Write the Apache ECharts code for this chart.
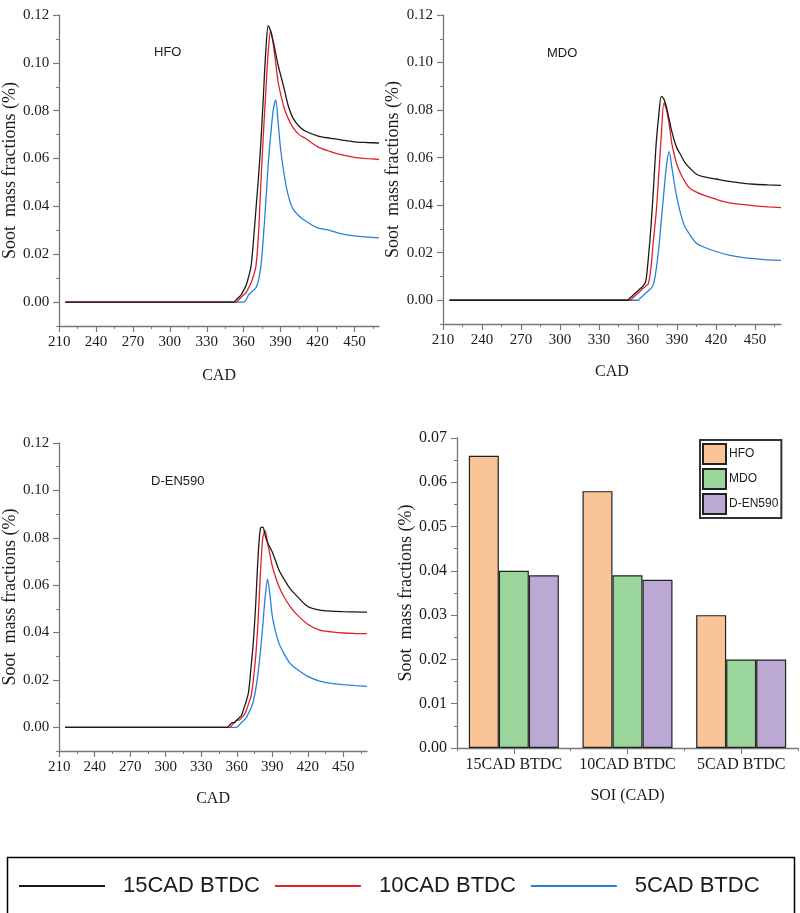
<!DOCTYPE html>
<html>
<head>
<meta charset="utf-8">
<script src="https://cdn.jsdelivr.net/npm/echarts@6/dist/echarts.min.js"></script>
<style>html,body{margin:0;padding:0;background:#fff}#c{width:800px;height:913px}</style>
</head>
<body>
<div id="c"></div>
<script>
// ---------- data ----------
const cad = [215, 350, 352, 354, 356, 358, 360, 362, 364, 366, 368, 370, 372, 374, 376, 378, 380, 382, 384, 386, 388, 390, 393, 396, 400, 405, 410, 420, 430, 440, 450, 460, 470];

const hfo15 = [0,0,0,0.001,0.002,0.003,0.005,0.007,0.0105,0.015,0.026,0.039,0.052,0.067,0.086,0.105,0.1155,0.113,0.109,0.104,0.099,0.095,0.089,0.0825,0.077,0.0735,0.0715,0.0695,0.0685,0.0677,0.067,0.0667,0.0665];
const hfo10 = [0,0,0,0,0.001,0.002,0.003,0.004,0.006,0.008,0.011,0.015,0.028,0.050,0.070,0.088,0.105,0.1135,0.108,0.100,0.092,0.087,0.081,0.077,0.073,0.070,0.0685,0.065,0.063,0.0615,0.0605,0.060,0.0596];
const hfo5  = [0,0,0,0,0,0,0,0.001,0.003,0.004,0.005,0.006,0.009,0.015,0.027,0.042,0.058,0.070,0.080,0.0845,0.075,0.064,0.053,0.045,0.039,0.036,0.034,0.031,0.030,0.0285,0.0277,0.0272,0.0268];

const mdo15 = [0,0,0,0.001,0.002,0.003,0.004,0.005,0.006,0.008,0.018,0.031,0.048,0.066,0.078,0.0858,0.0845,0.081,0.076,0.071,0.067,0.064,0.061,0.058,0.0555,0.053,0.052,0.051,0.050,0.0493,0.0488,0.0485,0.0483];
const mdo10 = [0,0,0,0,0.001,0.002,0.003,0.004,0.005,0.006,0.007,0.014,0.026,0.037,0.053,0.070,0.083,0.080,0.074,0.066,0.061,0.057,0.053,0.050,0.047,0.0455,0.0443,0.0425,0.041,0.0403,0.0397,0.0393,0.039];
const mdo5  = [0,0,0,0,0,0,0,0.001,0.002,0.003,0.004,0.005,0.007,0.013,0.022,0.034,0.046,0.057,0.0625,0.056,0.049,0.043,0.036,0.031,0.0275,0.024,0.0225,0.0205,0.019,0.018,0.0175,0.017,0.0168];

const den15 = [0,0,0,0.001,0.002,0.002,0.003,0.004,0.005,0.008,0.011,0.015,0.025,0.036,0.052,0.072,0.084,0.0845,0.081,0.078,0.076,0.074,0.070,0.066,0.0625,0.0585,0.0558,0.051,0.0495,0.049,0.0488,0.0487,0.0486];
const den10 = [0,0,0,0,0.001,0.002,0.003,0.003,0.004,0.005,0.007,0.010,0.013,0.020,0.030,0.045,0.065,0.080,0.083,0.078,0.073,0.068,0.063,0.059,0.055,0.051,0.048,0.0435,0.041,0.0403,0.0398,0.0396,0.0395];
const den5  = [0,0,0,0,0,0,0,0.001,0.002,0.003,0.004,0.006,0.008,0.011,0.016,0.023,0.032,0.043,0.055,0.0625,0.056,0.047,0.040,0.035,0.031,0.027,0.0248,0.0215,0.0195,0.0185,0.018,0.0176,0.0173];

const soiCats = ['15CAD BTDC', '10CAD BTDC', '5CAD BTDC'];
const barHFO = [0.066, 0.058, 0.030];
const barMDO = [0.040, 0.039, 0.020];
const barDEN = [0.039, 0.038, 0.020];

const xTicks = [210, 240, 270, 300, 330, 360, 390, 420, 450];
const xMinor = [225, 255, 285, 315, 345, 375, 405, 435, 465];
const yTicks = [0, 0.02, 0.04, 0.06, 0.08, 0.10, 0.12];
const yMinor = [-0.01, 0.01, 0.03, 0.05, 0.07, 0.09, 0.11];

const runNames = ['15CAD BTDC', '10CAD BTDC', '5CAD BTDC'];
const fuelNames = ['HFO', 'MDO', 'D-EN590'];

// ---------- styling ----------
const serif = "'Liberation Serif','Times New Roman',serif";
const sans = "'Liberation Sans',Arial,sans-serif";
const axisCol = '#777';
const txtCol = '#1a1a1a';
const lineCols = ['#1a1a1a', '#e0202a', '#2c7fd9'];
const barCols = ['#f9c597', '#9ad69b', '#bca8d5'];

const panels = [
  {title: 'HFO', tl: 149, tt: 41, grid: {left: 57, top: 15, width: 322, height: 311}, xGap: 42, yGap: 32, sets: [hfo15, hfo10, hfo5]},
  {title: 'MDO', tl: 542, tt: 42, grid: {left: 443, top: 15, width: 338, height: 309}, xGap: 40, yGap: 41, sets: [mdo15, mdo10, mdo5]},
  {title: 'D-EN590', tl: 146, tt: 470, grid: {left: 55, top: 443, width: 312, height: 308}, xGap: 40, yGap: 34, sets: [den15, den10, den5]}
];

const grid = [], xAxis = [], yAxis = [], series = [], title = [];
const axLine = {show: true, onZero: false, lineStyle: {color: axisCol, width: 1.3}};
const lblStyle = {color: txtCol, fontFamily: serif, fontSize: 15};
const nameStyle = {fontFamily: serif, fontSize: 18, color: txtCol};

panels.forEach((p, k) => {
  grid.push(Object.assign({containLabel: false}, p.grid));
  title.push({text: p.title, left: p.tl, top: p.tt, textStyle: {fontFamily: sans, fontSize: 13, fontWeight: 'normal', color: txtCol}});
  xAxis.push({type: 'value', gridIndex: k, min: 210, max: 470, position: 'bottom',
    axisLine: axLine, splitLine: {show: false},
    axisTick: {show: true, customValues: xMinor, length: 3, lineStyle: {color: axisCol}},
    axisLabel: {show: false}});
  xAxis.push({type: 'value', gridIndex: k, min: 210, max: 470, position: 'bottom',
    axisLine: {show: false, onZero: false}, splitLine: {show: false},
    axisTick: {show: true, customValues: xTicks, length: 6, lineStyle: {color: axisCol, width: 1.2}},
    axisLabel: Object.assign({show: true, customValues: xTicks, margin: 9}, lblStyle),
    name: 'CAD', nameLocation: 'middle', nameGap: p.xGap,
    nameTextStyle: {fontFamily: serif, fontSize: 16, color: txtCol}});
  yAxis.push({type: 'value', gridIndex: k, min: -0.01, max: 0.12, position: 'left',
    axisLine: axLine, splitLine: {show: false},
    axisTick: {show: true, customValues: yMinor, length: 3, lineStyle: {color: axisCol}},
    axisLabel: {show: false}});
  yAxis.push({type: 'value', gridIndex: k, min: -0.01, max: 0.12, position: 'left',
    axisLine: {show: false, onZero: false}, splitLine: {show: false},
    axisTick: {show: true, customValues: yTicks, length: 6, lineStyle: {color: axisCol, width: 1.2}},
    axisLabel: Object.assign({show: true, customValues: yTicks, margin: 10, formatter: v => v.toFixed(2)}, lblStyle),
    name: 'Soot  mass fractions (%)', nameLocation: 'middle', nameGap: p.yGap,
    nameTextStyle: nameStyle});
  p.sets.forEach((arr, j) => {
    series.push({type: 'line', name: runNames[j], xAxisIndex: 2 * k, yAxisIndex: 2 * k,
      data: cad.map((x, i) => [x, arr[i]]), symbol: 'none', showSymbol: false, smooth: 0.3,
      color: lineCols[j], lineStyle: {color: lineCols[j], width: 1.3}, z: 3 - j});
  });
});

// bar panel
grid.push({left: 457, top: 438, width: 341, height: 310});
xAxis.push({type: 'category', gridIndex: 3, data: soiCats,
  axisLine: axLine, axisTick: {show: true, alignWithLabel: true, length: 6, lineStyle: {color: axisCol}},
  axisLabel: {color: txtCol, fontFamily: serif, fontSize: 16, margin: 9, interval: 0},
  name: 'SOI (CAD)', nameLocation: 'middle', nameGap: 40,
  nameTextStyle: {fontFamily: serif, fontSize: 16, color: txtCol}});
xAxis.push({type: 'category', gridIndex: 3, data: soiCats, position: 'bottom',
  axisLine: {show: false, onZero: false}, axisTick: {show: true, alignWithLabel: false, length: 3, lineStyle: {color: axisCol}},
  axisLabel: {show: false}});
yAxis.push({type: 'value', gridIndex: 3, min: 0, max: 0.07, interval: 0.01,
  axisLine: axLine, splitLine: {show: false},
  axisTick: {show: true, length: 6, lineStyle: {color: axisCol}},
  minorTick: {show: true, splitNumber: 2, length: 3, lineStyle: {color: axisCol}},
  axisLabel: {color: txtCol, fontFamily: serif, fontSize: 16, margin: 10, formatter: v => v.toFixed(2)},
  name: 'Soot  mass fractions (%)', nameLocation: 'middle', nameGap: 42,
  nameTextStyle: nameStyle});
[barHFO, barMDO, barDEN].forEach((arr, j) => {
  series.push({type: 'bar', name: fuelNames[j], xAxisIndex: 6, yAxisIndex: 6, data: arr,
    barWidth: 30, barGap: '0%', color: barCols[j],
    itemStyle: {color: barCols[j], borderColor: '#222', borderWidth: 1.2}});
});

const option = {
  backgroundColor: '#fff',
  animation: false,
  title: title,
  grid: grid,
  xAxis: xAxis,
  yAxis: yAxis,
  series: series,
  legend: [
    {data: runNames, left: 14, top: 870, orient: 'horizontal', icon: 'rect', itemWidth: 86, itemHeight: 2, itemGap: 15,
      textStyle: {fontFamily: sans, fontSize: 22, color: txtCol, padding: [0, 0, 0, 13]}},
    {data: fuelNames, left: 700, top: 440, orient: 'vertical', icon: 'rect', itemWidth: 23, itemHeight: 20, itemGap: 3,
      borderColor: '#333', borderWidth: 2, padding: [3, 3, 3, 2],
      textStyle: {fontFamily: "'Liberation Sans Narrow'," + sans, fontSize: 12, color: txtCol, padding: [0, 0, 0, -2]}}
  ],
  graphic: [
    {type: 'rect', left: 5, top: 855, shape: {x: 0, y: 0, width: 787, height: 57}, style: {fill: 'none', stroke: '#000', lineWidth: 1.5}}
  ]
};

const chart = echarts.init(document.getElementById('c'), null, {renderer: 'canvas'});
chart.setOption(option);
</script>
</body>
</html>
